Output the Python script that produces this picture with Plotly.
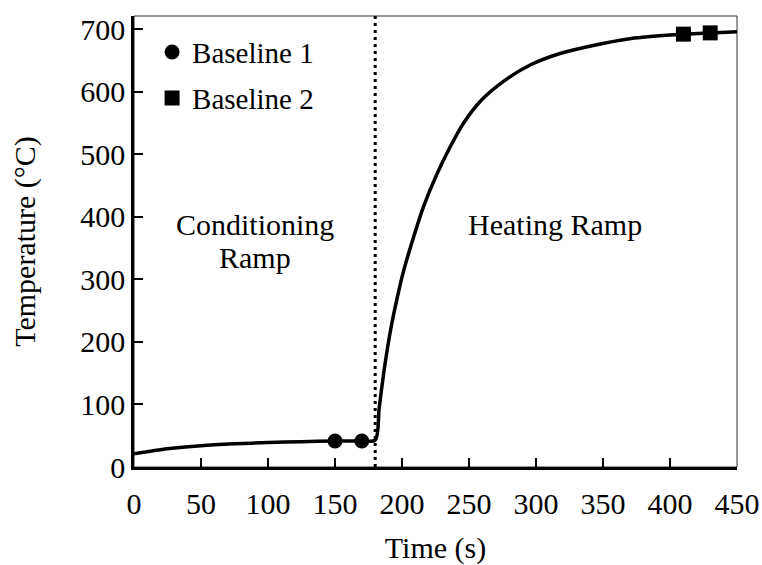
import plotly.graph_objects as go

# Temperature profile
time_s = [0, 25, 50, 75, 100, 125, 150, 170, 180, 183, 187, 192, 197, 201, 209,
          216, 226, 236, 246, 259, 276, 296, 318, 341, 371, 403, 430, 450]
temp_c = [21, 29, 34, 37, 39, 40.5, 41.6, 42, 43, 95, 160, 225, 276, 312, 370,
          416, 468, 512, 550, 586, 617, 643, 661, 673, 685, 691, 694, 696]

baseline1_t = [150, 170]
baseline1_T = [41.6, 41.6]
baseline2_t = [410, 430]
baseline2_T = [692, 694]

divider_t = 180
x_ticks = list(range(0, 451, 50))
y_ticks = list(range(0, 701, 100))

FONT = "Liberation Serif, Times New Roman, serif"
FS = 30

fig = go.Figure()
fig.add_trace(go.Scatter(x=time_s, y=temp_c, mode="lines",
                         line=dict(color="black", width=3.5, shape="spline", smoothing=0.8),
                         showlegend=False, hoverinfo="skip"))
fig.add_trace(go.Scatter(x=baseline1_t, y=baseline1_T, mode="markers", name="Baseline 1",
                         marker=dict(symbol="circle", size=15, color="black"),
                         legend="legend"))
fig.add_trace(go.Scatter(x=baseline2_t, y=baseline2_T, mode="markers", name="Baseline 2",
                         marker=dict(symbol="square", size=15, color="black"),
                         legend="legend2"))

fig.add_shape(type="line", xref="x", yref="paper", x0=divider_t, x1=divider_t, y0=0, y1=1,
              line=dict(color="black", width=3, dash="3px,4px"))
# thin outer frame of the plot area
fig.add_shape(type="rect", xref="paper", yref="paper", x0=0, x1=1, y0=0, y1=1,
              line=dict(color="#333333", width=1), layer="below")

ann_font = dict(family=FONT, size=FS, color="black")
fig.add_annotation(x=90, y=388, text="Conditioning", showarrow=False, font=ann_font)
fig.add_annotation(x=90, y=335, text="Ramp", showarrow=False, font=ann_font)
fig.add_annotation(x=314, y=388, text="Heating Ramp", showarrow=False, font=ann_font)

legend_common = dict(font=dict(family=FONT, size=FS - 1, color="black"),
                     bgcolor="rgba(0,0,0,0)", borderwidth=0,
                     xanchor="left", yanchor="middle", itemwidth=30)

fig.update_layout(
    width=762, height=565,
    margin=dict(l=134, r=25, t=16, b=98, autoexpand=False),
    paper_bgcolor="white", plot_bgcolor="white",
    font=dict(family=FONT, size=FS, color="black"),
    legend=dict(x=0.03, y=0.92, **legend_common),
    legend2=dict(x=0.03, y=0.818, **legend_common),
    xaxis=dict(range=[0, 450], tickvals=x_ticks, ticks="inside", ticklen=9, tickwidth=1.5,
               tickcolor="black", showline=True, linecolor="black", linewidth=2.5,
               showgrid=False, zeroline=False, ticklabelstandoff=8, automargin=False,
               title=dict(text="Time (s)", font=dict(family=FONT, size=FS, color="black"),
                          standoff=20),
               tickfont=dict(family=FONT, size=FS, color="black")),
    yaxis=dict(range=[0, 721], tickvals=y_ticks, ticks="inside", ticklen=9, tickwidth=1.5,
               tickcolor="black", showline=True, linecolor="black", linewidth=2.5,
               showgrid=False, zeroline=False, automargin=False,
               title=dict(text="Temperature (°C)", font=dict(family=FONT, size=FS, color="black"),
                          standoff=36),
               tickfont=dict(family=FONT, size=FS, color="black")),
)

fig.write_html("out.html")
